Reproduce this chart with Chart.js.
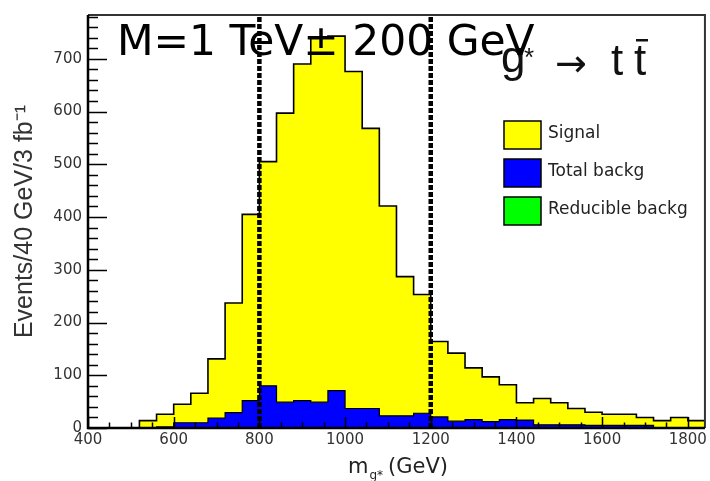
<!DOCTYPE html>
<html>
<head>
<meta charset="utf-8">
<script src="https://cdn.jsdelivr.net/npm/chart.js@4.4.1/dist/chart.umd.min.js"></script>
<style>
  html, body { margin: 0; padding: 0; background: #fff; overflow: hidden; }
  canvas { display: block; }
</style>
</head>
<body>
<canvas id="c" width="710" height="481"></canvas>
<script>
// Lower edges of the 40 GeV mass bins (GeV); last bin closes at histUpper
const binLow = [400, 440, 480, 520, 560, 600, 640, 680, 720, 760,
                800, 840, 880, 920, 960, 1000, 1040, 1080, 1120, 1160,
                1200, 1240, 1280, 1320, 1360, 1400, 1440, 1480, 1520, 1560,
                1600, 1640, 1680, 1720, 1760, 1800];
const histUpper = 1840;

// Events per bin for 3 fb^-1
const signal = [0, 0, 0, 14, 26, 45, 66, 131, 237, 405,
                505, 597, 690, 741, 743, 676, 568, 421, 287, 253,
                164, 142, 114, 97, 82, 48, 56, 48, 37, 30,
                26, 26, 20, 14, 20, 14];
const totalBkg = [0, 0, 0, 0, 2, 10, 10, 19, 29, 52,
                  80, 49, 52, 49, 71, 37, 37, 23, 23, 28,
                  21, 13, 16, 12, 16, 15, 6, 6, 6, 5,
                  5, 5, 5, 0, 0, 0];
const reducibleBkg = [];

// Mass window cuts (GeV)
const massWindow = [800, 1200];

// Axis ranges and tick spacing
const xRange = [400, 1840];
const yRange = [0, 783];
const xTickStep = 50, xLabelStep = 200;
const yTickStep = 20, yLabelStep = 100;

const seriesNames = ['Signal', 'Total backg', 'Reducible backg'];

function histPoints(values) {
  if (!values.length) return [];
  const pts = binLow.map((x, i) => ({ x: x, y: values[i] }));
  pts.push({ x: histUpper, y: values[values.length - 1] });
  return pts;
}

function cutLine(x) {
  return [{ x: x, y: yRange[0] }, { x: x, y: yRange[1] }];
}

// tick values at a fixed step inside [lo, hi]
function stepTicks(lo, hi, step) {
  const out = [];
  for (let v = lo; v <= hi; v += step) out.push({ value: v });
  return out;
}

const cutStyle = {
  type: 'line', borderColor: '#000', borderWidth: 4.5, borderDash: [5, 2],
  borderCapStyle: 'butt', pointRadius: 0, fill: false, tension: 0
};

const histStyle = { pointRadius: 0, tension: 0, stepped: 'before', fill: 'origin' };

// Inward ROOT-style ticks, frame, and overlay texts
const decorations = {
  id: 'decorations',
  afterDatasetsDraw(chart) {
    const { ctx, chartArea: a, scales: { x, y } } = chart;
    ctx.save();
    ctx.strokeStyle = '#000';
    ctx.lineWidth = 1.5;
    ctx.beginPath();
    y.ticks.forEach(t => {
      const py = Math.round(y.getPixelForValue(t.value)) + 0.5;
      const len = t.value % yLabelStep === 0 ? 19 : 10;
      ctx.moveTo(a.left, py); ctx.lineTo(a.left + len, py);
    });
    x.ticks.forEach(t => {
      const px = Math.round(x.getPixelForValue(t.value)) + 0.5;
      const len = t.value % xLabelStep === 0 ? 11 : 5.5;
      ctx.moveTo(px, a.bottom); ctx.lineTo(px, a.bottom - len);
    });
    ctx.stroke();

    // frame: top/right thinner grey, left/bottom black
    ctx.lineWidth = 2;
    ctx.strokeStyle = '#333';
    ctx.beginPath();
    ctx.moveTo(a.left, a.top); ctx.lineTo(a.right, a.top); ctx.lineTo(a.right, a.bottom);
    ctx.stroke();
    ctx.lineWidth = 2.5;
    ctx.strokeStyle = '#000';
    ctx.beginPath();
    ctx.moveTo(a.left, a.top); ctx.lineTo(a.left, a.bottom); ctx.lineTo(a.right, a.bottom);
    ctx.stroke();
    ctx.restore();
  },
  afterDraw(chart) {
    const { ctx } = chart;
    ctx.save();

    // process label g* -> t tbar
    ctx.fillStyle = '#111';
    ctx.textBaseline = 'alphabetic';
    ctx.font = '44px "Liberation Sans", Arial, sans-serif';
    ctx.fillText('g', 501, 72);
    ctx.font = '26px "Liberation Sans", Arial, sans-serif';
    ctx.fillText('*', 524, 66);
    ctx.font = '38px "DejaVu Sans", sans-serif';
    ctx.fillText('\u2192', 555, 76);
    ctx.font = '44px "Liberation Sans", Arial, sans-serif';
    ctx.fillText('t', 611, 75);
    ctx.fillText('t', 634, 75);
    ctx.fillRect(636, 39, 12, 2.5);

    // legend
    const boxes = [
      { label: seriesNames[0], color: chart.data.datasets[3].backgroundColor, top: 121 },
      { label: seriesNames[1], color: chart.data.datasets[2].backgroundColor, top: 159 },
      { label: seriesNames[2], color: chart.data.datasets[4].backgroundColor, top: 197 }
    ];
    ctx.font = '17px "DejaVu Sans", sans-serif';
    ctx.textBaseline = 'middle';
    boxes.forEach(b => {
      ctx.fillStyle = b.color;
      ctx.fillRect(504, b.top, 37, 28);
      ctx.strokeStyle = '#000';
      ctx.lineWidth = 1.5;
      ctx.strokeRect(504, b.top, 37, 28);
      ctx.fillStyle = '#222';
      ctx.fillText(b.label, 548, b.top + 13);
    });

    // x-axis title m_{g*} (GeV)
    ctx.textBaseline = 'alphabetic';
    ctx.fillStyle = '#222';
    ctx.font = '21px "DejaVu Sans", sans-serif';
    ctx.fillText('m', 348, 473);
    const mW = ctx.measureText('m').width;
    ctx.font = '12px "DejaVu Sans", sans-serif';
    ctx.fillText('g*', 348 + mW + 1, 479);
    ctx.font = '21px "DejaVu Sans", sans-serif';
    ctx.fillText('(GeV)', 388, 473);

    // headline
    ctx.fillStyle = '#000';
    ctx.font = '45px "DejaVu Sans", sans-serif';
    const head = 'M=1 TeV\u00b1 200 GeV';
    const w = ctx.measureText(head).width;
    const size = 45 * 418 / w;
    ctx.font = size.toFixed(1) + 'px "DejaVu Sans", sans-serif';
    ctx.fillText(head, 117, 55);
    ctx.restore();
  }
};

new Chart(document.getElementById('c'), {
  type: 'line',
  data: {
    datasets: [
      Object.assign({ label: 'cut low', data: cutLine(massWindow[0]) }, cutStyle),
      Object.assign({ label: 'cut high', data: cutLine(massWindow[1]) }, cutStyle),
      Object.assign({ label: seriesNames[1], data: histPoints(totalBkg),
        backgroundColor: '#0000ff', borderColor: '#000', borderWidth: 1.2 }, histStyle),
      Object.assign({ label: seriesNames[0], data: histPoints(signal),
        backgroundColor: '#ffff00', borderColor: '#000', borderWidth: 1.6 }, histStyle),
      Object.assign({ label: seriesNames[2], data: histPoints(reducibleBkg),
        backgroundColor: '#00ff00', borderColor: '#000', borderWidth: 1.2 }, histStyle)
    ]
  },
  options: {
    responsive: false,
    animation: false,
    layout: { padding: { top: 7, right: 4, left: 0, bottom: 0 } },
    plugins: { legend: { display: false }, tooltip: { enabled: false }, title: { display: false } },
    scales: {
      x: {
        type: 'linear', min: xRange[0], max: xRange[1],
        grid: { display: false, drawTicks: false },
        border: { display: false },
        afterBuildTicks: s => { s.ticks = stepTicks(xRange[0], xRange[1] - 1, xTickStep); },
        ticks: {
          autoSkip: false, maxRotation: 0, padding: 3,
          color: '#333', font: { family: '"DejaVu Sans", sans-serif', size: 15 },
          callback: v => (v % xLabelStep === 0) ? String(v) : ''
        },
        afterFit: s => { s.height = 53; }
      },
      y: {
        type: 'linear', min: yRange[0], max: yRange[1],
        grid: { display: false, drawTicks: false },
        border: { display: false },
        afterBuildTicks: s => { s.ticks = stepTicks(yRange[0], yRange[1], yTickStep); },
        ticks: {
          autoSkip: false, padding: 6,
          color: '#333', font: { family: '"DejaVu Sans", sans-serif', size: 15 },
          callback: v => (v % yLabelStep === 0) ? String(v) : ''
        },
        title: {
          display: true, text: 'Events/40 GeV/3 fb\u207b\u00b9', color: '#333',
          font: { family: '"Liberation Sans", Arial, sans-serif', size: 25 },
          padding: { top: 10, bottom: 0 }
        },
        afterFit: s => { s.width = 88; }
      }
    }
  },
  plugins: [decorations]
});
</script>
</body>
</html>
